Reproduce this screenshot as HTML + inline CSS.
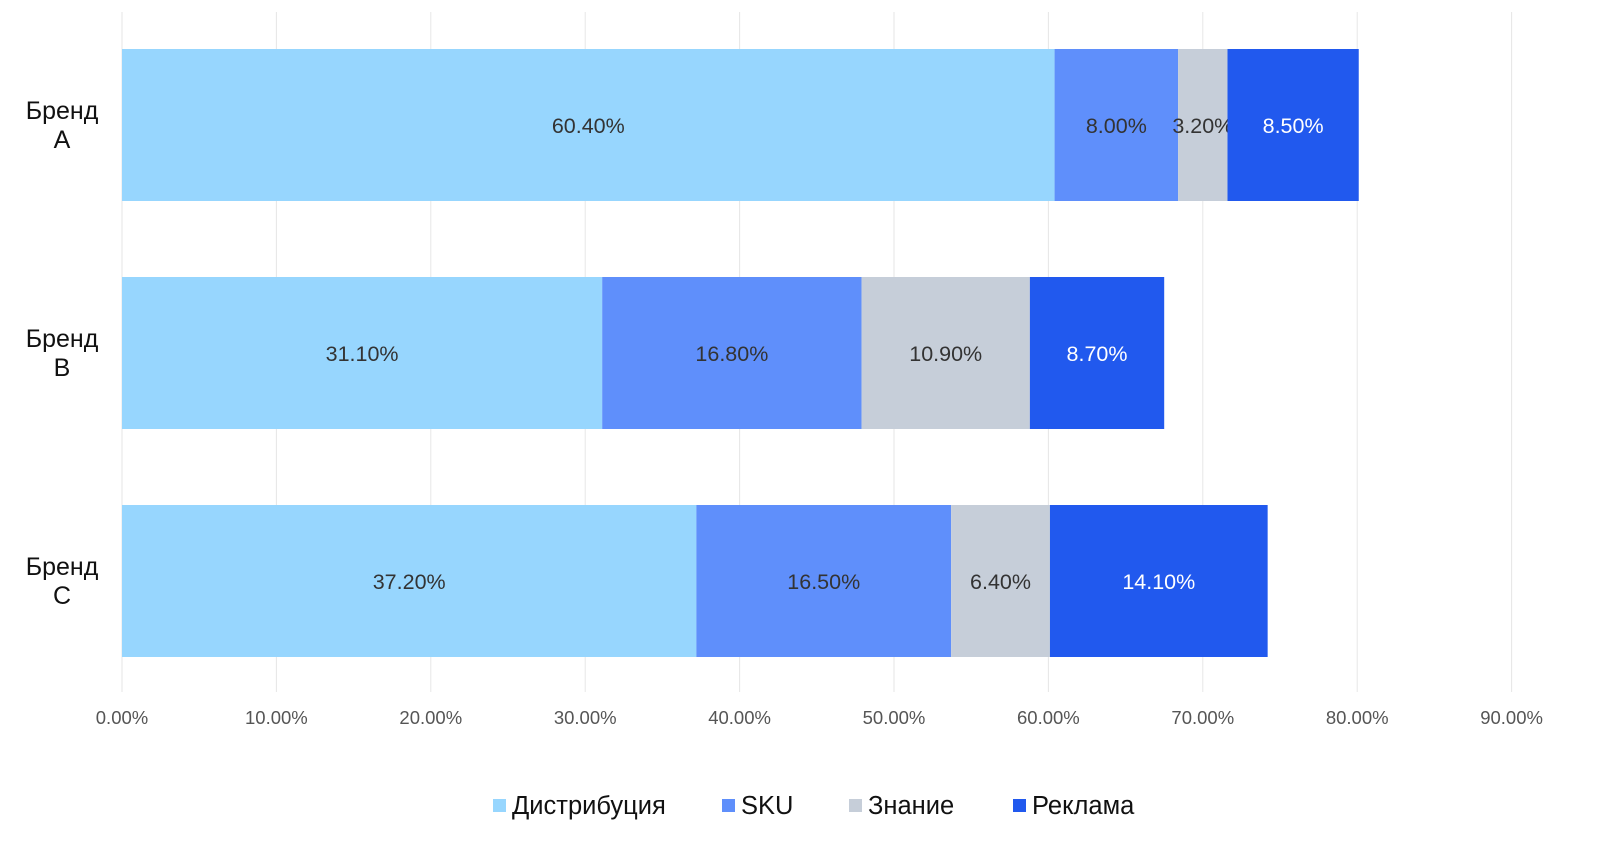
<!DOCTYPE html>
<html><head><meta charset="utf-8"><style>
body{margin:0;background:#fff;}
svg{display:block;font-family:"Liberation Sans",sans-serif;}
</style></head><body>
<svg id="chart" width="1600" height="864"></svg>
<script>
const categories=["Бренд A","Бренд B","Бренд C"];
const seriesNames=["Дистрибуция","SKU","Знание","Реклама"];
const distribution=[60.4,31.1,37.2];
const sku=[8.0,16.8,16.5];
const awareness=[3.2,10.9,6.4];
const advertising=[8.5,8.7,14.1];
const tickValues=[0,10,20,30,40,50,60,70,80,90];
const seriesData=[distribution,sku,awareness,advertising];
const colors=["#97D6FE","#5F8FFB","#C6CED9","#2159EE"];
const textColors=["#333","#333","#333","#fff"];
const NS="http://www.w3.org/2000/svg";
const svg=document.getElementById('chart');
const x0=122,pxPer=15.44;
const xs=v=>x0+v*pxPer;
const bandTop=11,band=228,barH=152;
const yb=i=>bandTop+i*band+(band-barH)/2;
function mk(t,a,parent){const e=document.createElementNS(NS,t);for(const k in a)e.setAttribute(k,a[k]);(parent||svg).appendChild(e);return e;}
tickValues.forEach(v=>{
  const l=mk('line',{x1:xs(v),x2:xs(v),y1:12,y2:692,stroke:'#e6e6e6','stroke-width':1});
  
  
  const t=mk('text',{x:xs(v),y:724,'text-anchor':'middle','font-size':18.5,fill:'#555'});
  t.textContent=v.toFixed(2)+'%';
  
  
});
categories.forEach((c,i)=>{
  const parts=c.split(' ');
  const t=mk('text',{x:62,y:yb(i)+barH/2-6,'text-anchor':'middle','font-size':25,fill:'#111'});
  
  
  const s1=mk('tspan',{x:62},t);s1.textContent=parts[0];
  const s2=mk('tspan',{x:62,dy:29},t);s2.textContent=parts[1];
  let acc=0;
  seriesData.forEach((arr,s)=>{
    const v=arr[i];
    const r=mk('rect',{x:xs(acc),y:yb(i),width:v*pxPer,height:barH,fill:colors[s]});
    
    
    const lt=mk('text',{x:xs(acc+v/2),y:yb(i)+barH/2+8,'text-anchor':'middle','font-size':21.5,fill:textColors[s]});
    lt.textContent=v.toFixed(2)+'%';
    
    
    acc+=v;
  });
});
const legX=[493,722,849,1013];
seriesNames.forEach((n,s)=>{
  const g=mk('g',{});
  
  
  mk('rect',{x:legX[s],y:799,width:13,height:13,fill:colors[s]},g);
  const t=mk('text',{x:legX[s]+19,y:814,'font-size':25.5,fill:'#111'},g);
  t.textContent=n;
});
</script>
</body></html>
